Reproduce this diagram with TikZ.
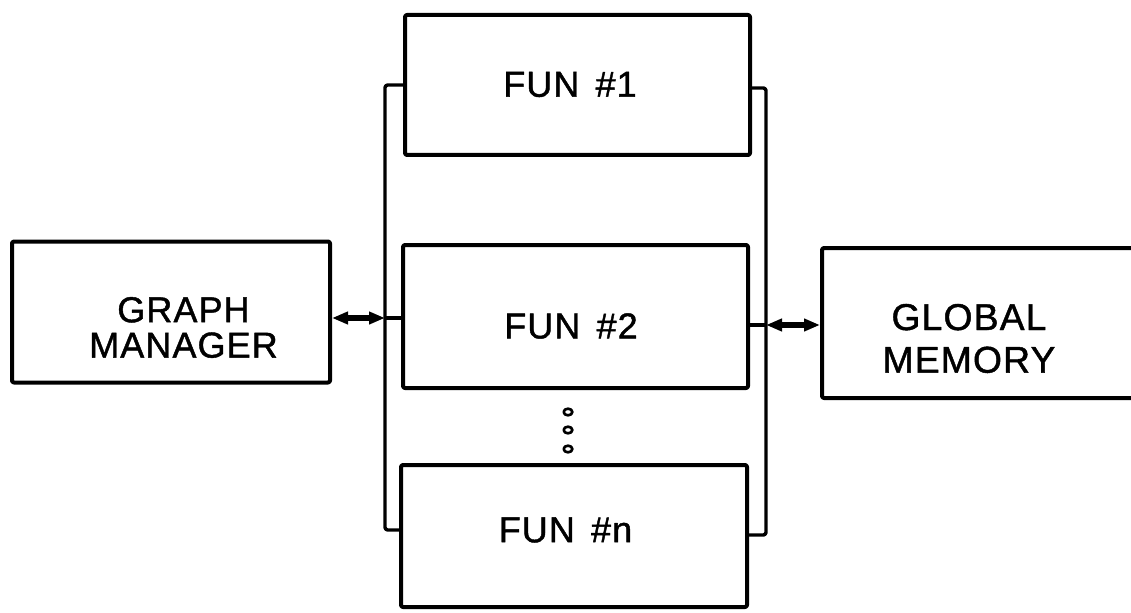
\documentclass[tikz,border=0pt]{standalone}
\usepackage{fontspec}
\setmainfont{Liberation Sans}[LetterSpace=3, FakeBold=1.2]
\usetikzlibrary{arrows.meta,shapes.geometric}
\begin{document}
\begin{tikzpicture}[x=0.75pt,y=-0.75pt, line join=round,
  blk/.style={draw, line width=3pt, rounded corners=1.5pt, inner sep=0pt},
  lbl/.style={font=\fontsize{27}{26.5}\selectfont, align=center, inner sep=0pt},
  bus/.style={line width=2.6pt},
  dbl/.style={line width=4pt, {Triangle[length=12pt,width=9pt]}-{Triangle[length=12pt,width=9pt]}},
  dot/.style={ellipse, draw, line width=2pt, minimum width=6.5pt, minimum height=5pt, inner sep=0pt}]
\useasboundingbox (0,0) rectangle (1131,613);
% boxes
\node[blk, minimum width=318*0.75pt, minimum height=141*0.75pt] (gm) at (171,312) {};
\node[blk, minimum width=345*0.75pt, minimum height=140*0.75pt] (f1) at (577.5,85) {};
\node[blk, minimum width=345*0.75pt, minimum height=143*0.75pt] (f2) at (575.5,316.5) {};
\node[blk, minimum width=346*0.75pt, minimum height=142*0.75pt] (fn) at (574,536) {};
\node[blk, minimum width=323*0.75pt, minimum height=150*0.75pt] (glm) at (983.5,323) {};
% texts
\node[lbl] (gmt) at (183.5,327.5) {GRAPH\\MANAGER};
\node[lbl] (f1t) at (570,84.5) {FUN\hspace{0.45em}\#1};
\node[lbl] (f2t) at (571,326) {FUN\hspace{0.45em}\#2};
\node[lbl] (fnt) at (565.5,530) {FUN\hspace{0.45em}\#n};
\node[lbl, font=\fontsize{28}{32}\selectfont] (glmt) at (969,338.5) {GLOBAL\\MEMORY};
% dots
\node[dot] (d1) at (568,412) {};
\node[dot] (d2) at (568,430) {};
\node[dot] (d3) at (568,449) {};
% buses
\coordinate (lt) at (385,85);
\coordinate (lb) at (385,530);
\coordinate (rt) at (766,88);
\coordinate (rb) at (766,535);
\draw[bus, rounded corners=2pt] (f1.west) -- (lt) -- (lb) -- (lb -| fn.west);
\draw[bus, rounded corners=2pt] (rt -| f1.east) -- (rt) -- (rb) -- (rb -| fn.east);
% connections
\coordinate (la) at (385,318);
\coordinate (ra) at (766,325);
\draw[dbl] (la -| gm.east) -- (la);
\draw[bus] (la) -- (la -| f2.west);
\draw[bus] (ra -| f2.east) -- (ra);
\draw[dbl] (ra) -- (ra -| glm.west);
\end{tikzpicture}
\end{document}
